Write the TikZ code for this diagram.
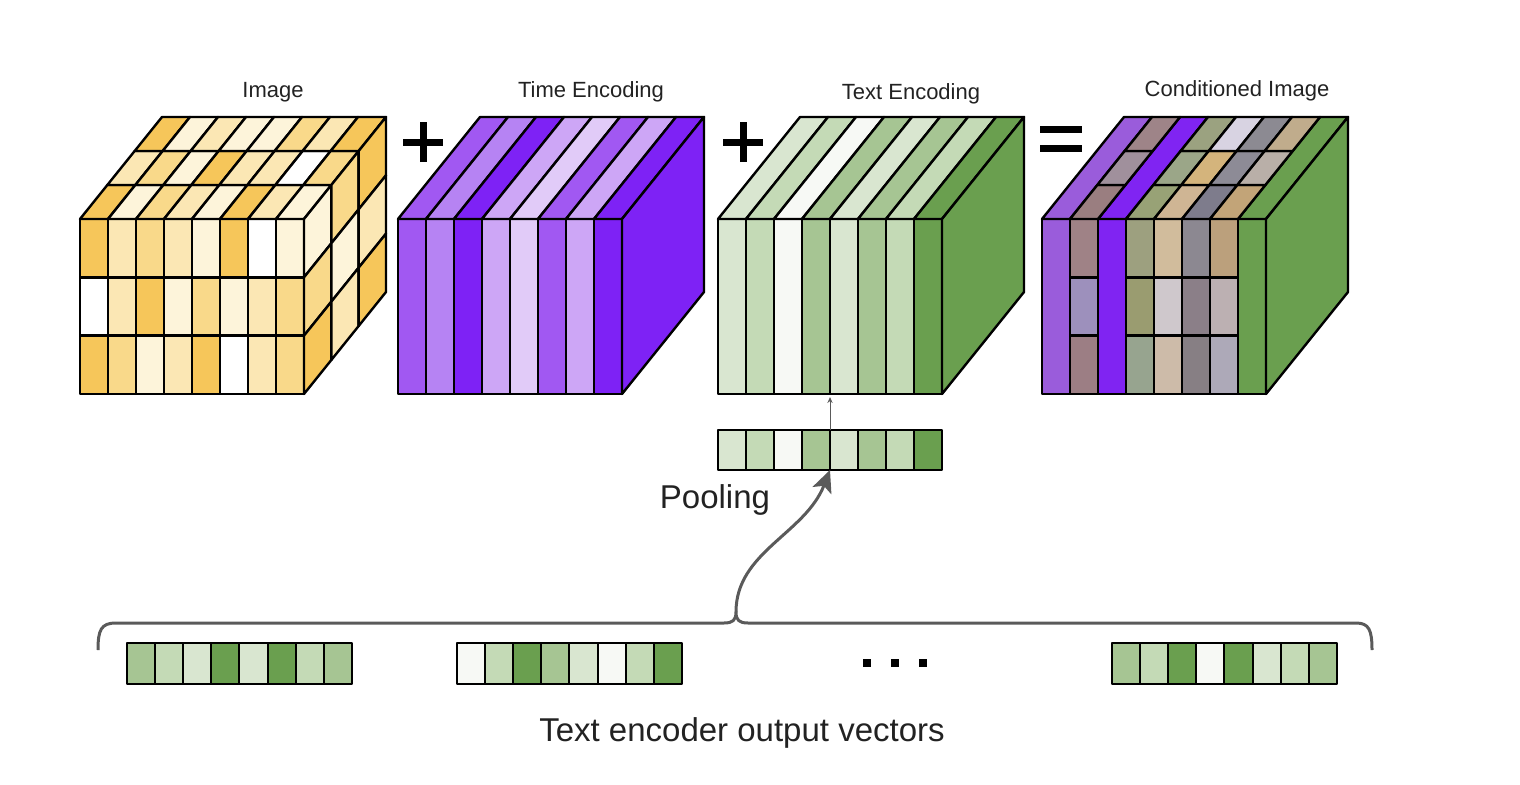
\documentclass[tikz,border=0pt]{standalone}
\usepackage{fontspec}
\setmainfont{Liberation Sans}
\usepackage{xcolor}
\usepackage{tikz}
\usetikzlibrary{arrows.meta}
\definecolor{DFInk}{HTML}{222222}
\definecolor{DFBrace}{HTML}{5A5A5A}
\definecolor{DFYelA}{HTML}{F6C65A}
\definecolor{DFYelB}{HTML}{F9D98A}
\definecolor{DFYelC}{HTML}{FBE7B4}
\definecolor{DFYelD}{HTML}{FDF4DA}
\definecolor{DFPurA}{HTML}{7E22F5}
\definecolor{DFPurB}{HTML}{A158F2}
\definecolor{DFPurC}{HTML}{B683F3}
\definecolor{DFPurD}{HTML}{CDA6F6}
\definecolor{DFPurE}{HTML}{E1CBF8}
\definecolor{DFGrnA}{HTML}{6A9F4F}
\definecolor{DFGrnB}{HTML}{A6C593}
\definecolor{DFGrnC}{HTML}{C4DAB6}
\definecolor{DFGrnD}{HTML}{D9E6D0}
\definecolor{DFGrnE}{HTML}{F7F9F5}
\definecolor{DFCndPurple}{HTML}{9A5CDB}
\definecolor{DFCndViolet}{HTML}{8024F2}
\definecolor{DFCndMauveA}{HTML}{9F8286}
\definecolor{DFCndMauveB}{HTML}{9D90BC}
\definecolor{DFCndMauveC}{HTML}{9C7E84}
\definecolor{DFCndOliveA}{HTML}{9DA07F}
\definecolor{DFCndOliveB}{HTML}{9A9C70}
\definecolor{DFCndOliveC}{HTML}{97A48F}
\definecolor{DFCndTanA}{HTML}{D1BC9C}
\definecolor{DFCndTanB}{HTML}{CFC8CC}
\definecolor{DFCndTanC}{HTML}{CDBBA9}
\definecolor{DFCndGreyA}{HTML}{8C8891}
\definecolor{DFCndGreyB}{HTML}{8B7F88}
\definecolor{DFCndGreyC}{HTML}{877F84}
\definecolor{DFCndSandA}{HTML}{BBA07C}
\definecolor{DFCndSandB}{HTML}{BCB0B2}
\definecolor{DFCndSandC}{HTML}{ADA9B8}
\definecolor{DFTopMauveA}{HTML}{9A7E80}
\definecolor{DFTopMauveB}{HTML}{A0909C}
\definecolor{DFTopMauveC}{HTML}{9E8488}
\definecolor{DFTopOliveA}{HTML}{98A276}
\definecolor{DFTopOliveB}{HTML}{9BA688}
\definecolor{DFTopOliveC}{HTML}{9BA280}
\definecolor{DFTopTanA}{HTML}{CFB594}
\definecolor{DFTopTanB}{HTML}{D4B47C}
\definecolor{DFTopTanC}{HTML}{D8D3E2}
\definecolor{DFTopGreyA}{HTML}{7E7C8C}
\definecolor{DFTopGreyB}{HTML}{8D8B96}
\definecolor{DFTopGreyC}{HTML}{8C8A92}
\definecolor{DFTopSandA}{HTML}{C2A478}
\definecolor{DFTopSandB}{HTML}{B9AFA8}
\definecolor{DFTopSandC}{HTML}{C0AC8C}

\begin{document}
\begin{tikzpicture}[x=0.5pt,y=0.5pt,
  cell/.style={draw=black,line width=1.2pt,line join=round},
  vcell/.style={draw=black,line width=1pt,line join=round},
  sign/.style={line width=3.5pt,black},
  label/.style={text=DFInk,font=\fontsize{11}{13}\selectfont},
  biglabel/.style={text=DFInk,font=\fontsize{16.5}{19}\selectfont}]
\path[use as bounding box] (0,0) rectangle (1520,784);
% image cube
\foreach \c [count=\i from 0] in {DFYelA,DFYelC,DFYelB,DFYelC,DFYelD,DFYelA,white,DFYelD}
  \filldraw[cell,fill=\c] ({80+28*\i},506.67) rectangle ++(28,58.33);
\foreach \c [count=\i from 0] in {white,DFYelC,DFYelA,DFYelD,DFYelB,DFYelD,DFYelC,DFYelB}
  \filldraw[cell,fill=\c] ({80+28*\i},448.33) rectangle ++(28,58.33);
\foreach \c [count=\i from 0] in {DFYelA,DFYelB,DFYelD,DFYelC,DFYelA,white,DFYelC,DFYelB}
  \filldraw[cell,fill=\c] ({80+28*\i},390) rectangle ++(28,58.33);
\foreach \c [count=\i from 0] in {DFYelA,DFYelD,DFYelB,DFYelC,DFYelD,DFYelA,DFYelC,DFYelD}
  \filldraw[cell,fill=\c] ({80+28*\i},565) -- ++(28,0) -- ++(27.33,34) -- ++(-28,0) -- cycle;
\foreach \c [count=\i from 0] in {DFYelC,DFYelB,DFYelD,DFYelA,DFYelC,DFYelC,white,DFYelB}
  \filldraw[cell,fill=\c] ({107.33+28*\i},599) -- ++(28,0) -- ++(27.33,34) -- ++(-28,0) -- cycle;
\foreach \c [count=\i from 0] in {DFYelA,DFYelD,DFYelC,DFYelD,DFYelD,DFYelB,DFYelC,DFYelA}
  \filldraw[cell,fill=\c] ({134.67+28*\i},633) -- ++(28,0) -- ++(27.33,34) -- ++(-28,0) -- cycle;
\foreach \c [count=\j from 0] in {DFYelD,DFYelB,DFYelA}
  \filldraw[cell,fill=\c] (304,{506.67-58.33*\j}) -- ++(27.33,34) -- ++(0,58.33) -- ++(-27.33,-34) -- cycle;
\foreach \c [count=\j from 0] in {DFYelB,DFYelD,DFYelC}
  \filldraw[cell,fill=\c] (331.33,{540.67-58.33*\j}) -- ++(27.33,34) -- ++(0,58.33) -- ++(-27.33,-34) -- cycle;
\foreach \c [count=\j from 0] in {DFYelA,DFYelC,DFYelA}
  \filldraw[cell,fill=\c] (358.67,{574.67-58.33*\j}) -- ++(27.33,34) -- ++(0,58.33) -- ++(-27.33,-34) -- cycle;
\node[label] (imgLabel) at (273,692) {Image};

% time encoding
\foreach \c [count=\i from 0] in {DFPurB,DFPurC,DFPurA,DFPurD,DFPurE,DFPurB,DFPurD,DFPurA} {
  \filldraw[cell,fill=\c] ({398+28*\i},390) rectangle ++(28,175);
  \filldraw[cell,fill=\c] ({398+28*\i},565) -- ++(28,0) -- ++(82,102) -- ++(-28,0) -- cycle;
}
\filldraw[cell,fill=DFPurA] (622,390) -- ++(82,102) -- ++(0,175) -- ++(-82,-102) -- cycle;
\node[label] (timeLabel) at (591,692) {Time Encoding};

% text encoding
\foreach \c [count=\i from 0] in {DFGrnD,DFGrnC,DFGrnE,DFGrnB,DFGrnD,DFGrnB,DFGrnC,DFGrnA} {
  \filldraw[cell,fill=\c] ({718+28*\i},390) rectangle ++(28,175);
  \filldraw[cell,fill=\c] ({718+28*\i},565) -- ++(28,0) -- ++(82,102) -- ++(-28,0) -- cycle;
}
\filldraw[cell,fill=DFGrnA] (942,390) -- ++(82,102) -- ++(0,175) -- ++(-82,-102) -- cycle;
\node[label] (textLabel) at (911,690) {Text Encoding};

% conditioned image
\foreach \i/\c in {0/DFCndPurple,2/DFCndViolet,7/DFGrnA} {
  \filldraw[cell,fill=\c] ({1042+28*\i},390) rectangle ++(28,175);
  \filldraw[cell,fill=\c] ({1042+28*\i},565) -- ++(28,0) -- ++(82,102) -- ++(-28,0) -- cycle;
}
\foreach \i/\c in {1/DFCndMauveA,3/DFCndOliveA,4/DFCndTanA,5/DFCndGreyA,6/DFCndSandA}
  \filldraw[cell,fill=\c] ({1042+28*\i},506.67) rectangle ++(28,58.33);
\foreach \i/\c in {1/DFCndMauveB,3/DFCndOliveB,4/DFCndTanB,5/DFCndGreyB,6/DFCndSandB}
  \filldraw[cell,fill=\c] ({1042+28*\i},448.33) rectangle ++(28,58.33);
\foreach \i/\c in {1/DFCndMauveC,3/DFCndOliveC,4/DFCndTanC,5/DFCndGreyC,6/DFCndSandC}
  \filldraw[cell,fill=\c] ({1042+28*\i},390) rectangle ++(28,58.33);
\foreach \i/\c in {1/DFTopMauveA,3/DFTopOliveA,4/DFTopTanA,5/DFTopGreyA,6/DFTopSandA}
  \filldraw[cell,fill=\c] ({1042+28*\i},565) -- ++(28,0) -- ++(27.33,34) -- ++(-28,0) -- cycle;
\foreach \i/\c in {1/DFTopMauveB,3/DFTopOliveB,4/DFTopTanB,5/DFTopGreyB,6/DFTopSandB}
  \filldraw[cell,fill=\c] ({1069.33+28*\i},599) -- ++(28,0) -- ++(27.33,34) -- ++(-28,0) -- cycle;
\foreach \i/\c in {1/DFTopMauveC,3/DFTopOliveC,4/DFTopTanC,5/DFTopGreyC,6/DFTopSandC}
  \filldraw[cell,fill=\c] ({1096.67+28*\i},633) -- ++(28,0) -- ++(27.33,34) -- ++(-28,0) -- cycle;
\filldraw[cell,fill=DFGrnA] (1266,390) -- ++(82,102) -- ++(0,175) -- ++(-82,-102) -- cycle;
\node[label] (condLabel) at (1237,693) {Conditioned Image};

% plus and equals
\draw[sign] (403,642) -- (443,642) (423,622) -- (423,662);
\draw[sign] (723,642) -- (763,642) (743,622) -- (743,662);
\draw[sign] (1040,655) -- (1082,655) (1040,636) -- (1082,636);

% pooled vector
\foreach \c [count=\i from 0] in {DFGrnD,DFGrnC,DFGrnE,DFGrnB,DFGrnD,DFGrnB,DFGrnC,DFGrnA}
  \filldraw[vcell,fill=\c] ({718+28*\i},314) rectangle ++(28,40);
\coordinate (poolS) at (830,314);
\coordinate (poolN) at (830,354);
\coordinate (textB) at (830,387);
\draw[DFBrace,line width=0.5pt,-{Stealth[length=3pt,width=2.6pt]}] (poolN) -- (textB);
\node[biglabel] (poolLabel) at (715,284) {Pooling};

% output vectors
\foreach \c [count=\i from 0] in {DFGrnB,DFGrnC,DFGrnD,DFGrnA,DFGrnD,DFGrnA,DFGrnC,DFGrnB}
  \filldraw[vcell,fill=\c] ({127+28.1*\i},100) rectangle ++(28.1,41);
\foreach \c [count=\i from 0] in {DFGrnE,DFGrnC,DFGrnA,DFGrnB,DFGrnD,DFGrnE,DFGrnC,DFGrnA}
  \filldraw[vcell,fill=\c] ({457+28.1*\i},100) rectangle ++(28.1,41);
\foreach \c [count=\i from 0] in {DFGrnB,DFGrnC,DFGrnA,DFGrnE,DFGrnA,DFGrnD,DFGrnC,DFGrnB}
  \filldraw[vcell,fill=\c] ({1112+28.1*\i},100) rectangle ++(28.1,41);
\foreach \x in {867,895,923}
  \fill[black] ({\x-4},117) rectangle ++(8,8);
\node[biglabel] (outLabel) at (742,51) {Text encoder output vectors};

% brace and arrow
\coordinate (cusp) at (736,172);
\draw[DFBrace,line width=1.5pt,line join=round]
  (98,134) .. controls (98,154) and (101,161) .. (116,161) -- (724,161)
  .. controls (733,161) and (736,164) .. (cusp)
  .. controls (736,164) and (739,161) .. (748,161) -- (1356,161)
  .. controls (1369,161) and (1372,154) .. (1372,134);
\draw[DFBrace,line width=1.5pt,-{Stealth[length=11pt,width=10pt,inset=2.5pt]}]
  (cusp) .. controls (736,232) and (805,250) .. (poolS);
\end{tikzpicture}
\end{document}
